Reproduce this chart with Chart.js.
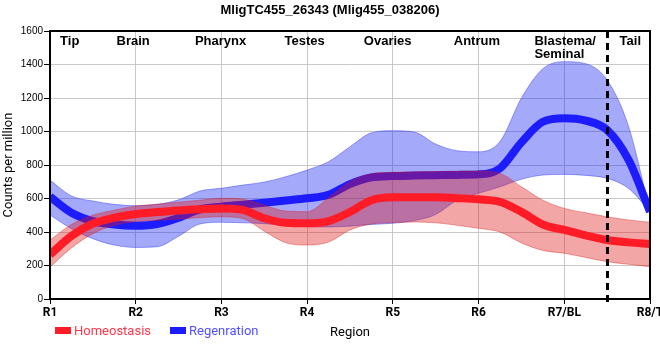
<!DOCTYPE html>
<html>
<head>
<meta charset="utf-8">
<script src="https://cdn.jsdelivr.net/npm/chart.js@4/dist/chart.umd.min.js"></script>
<style>
  html, body { margin: 0; padding: 0; background: #fff; }
  #wrap { width: 660px; height: 360px; }
</style>
</head>
<body>
<div id="wrap"><canvas id="c" width="660" height="360"></canvas></div>
<script>
// ---------- data ----------
const chartTitle = 'MligTC455_26343 (Mlig455_038206)';
const xTickLabels = ['R1', 'R2', 'R3', 'R4', 'R5', 'R6', 'R7/BL', 'R8/T'];
const regionNames = [['Tip'], ['Brain'], ['Pharynx'], ['Testes'], ['Ovaries'], ['Antrum'], ['Blastema/', 'Seminal'], ['Tail']];
const regionAt = [1.23, 1.97, 2.99, 3.97, 4.94, 5.98, 7.01, 7.77];
const dividerAt = 7.5;
const yTicks = [0, 200, 400, 600, 800, 1000, 1200, 1400, 1600];
const seriesNames = ['Homeostasis', 'Regenration'];
const xAxisTitle = 'Region';
const yAxisTitle = 'Counts per million';

// sample positions along the body (region units)
const xs = [1, 1.25, 1.5, 1.75, 2, 2.25, 2.5, 2.75, 3, 3.25, 3.5, 3.75, 4, 4.25, 4.5, 4.75,
            5, 5.25, 5.5, 5.75, 6, 6.25, 6.5, 6.75, 7, 7.25, 7.5, 7.75, 8];

const homeoMean  = [265, 376, 450, 485, 507, 519, 529, 536, 541, 532, 482, 455, 452, 465, 520, 590,
                    607, 608, 607, 602, 595, 580, 520, 445, 412, 380, 352, 338, 328];
const homeoUpper = [352, 445, 500, 530, 555, 566, 578, 590, 601, 596, 560, 525, 521, 605, 700, 748,
                    756, 759, 761, 763, 764, 750, 670, 590, 541, 515, 491, 472, 458];
const homeoLower = [190, 305, 390, 440, 462, 470, 478, 486, 491, 480, 405, 336, 322, 340, 412, 448,
                    456, 460, 455, 440, 422, 400, 335, 290, 273, 248, 223, 207, 193];

const regenMean  = [610, 515, 465, 445, 438, 448, 485, 535, 551, 563, 575, 588, 601, 622, 686, 726,
                    734, 737, 739, 741, 744, 780, 935, 1058, 1079, 1065, 1009, 830, 521];
const regenUpper = [710, 615, 585, 565, 557, 565, 592, 645, 661, 680, 698, 730, 770, 820, 909, 992,
                    1005, 997, 925, 885, 879, 940, 1200, 1375, 1417, 1405, 1307, 1030, 521];
const regenLower = [501, 420, 360, 322, 308, 312, 375, 448, 458, 455, 450, 440, 432, 430, 435, 445,
                    452, 468, 505, 590, 631, 670, 715, 740, 744, 738, 720, 660, 521];

// ---------- styles ----------
const RED = 'rgb(255,28,38)';
const BLUE = 'rgb(28,28,255)';
const RED_BAND = 'rgba(220,20,20,0.38)';
const BLUE_BAND = 'rgba(30,40,240,0.40)';
const RED_TEXT = 'rgb(255,55,75)';
const BLUE_TEXT = 'rgb(80,80,255)';

const pts = arr => arr.map((v, i) => ({ x: xs[i], y: v }));

function lineDs(label, arr, color) {
  return { label, data: pts(arr), borderColor: color, backgroundColor: color, borderWidth: 8,
           pointRadius: 0, fill: false, cubicInterpolationMode: 'monotone', borderCapStyle: 'butt' };
}
function bandDs(label, arr, color, fill) {
  return { label, data: pts(arr), borderColor: color, backgroundColor: color, borderWidth: 1,
           pointRadius: 0, fill: fill, cubicInterpolationMode: 'monotone' };
}

const datasets = [
  lineDs(seriesNames[0], homeoMean, RED),
  bandDs('h_upper', homeoUpper, RED_BAND, '+1'),
  bandDs('h_lower', homeoLower, RED_BAND, false),
  lineDs(seriesNames[1], regenMean, BLUE),
  bandDs('r_upper', regenUpper, BLUE_BAND, '+1'),
  bandDs('r_lower', regenLower, BLUE_BAND, false)
];

const decor = {
  id: 'decor',
  afterDatasetsDraw(chart) {
    const { ctx, chartArea: a, scales: { x } } = chart;
    ctx.save();
    // dashed divider
    const dx = Math.round(x.getPixelForValue(dividerAt)) + 0.5;
    ctx.strokeStyle = '#000';
    ctx.lineWidth = 3;
    ctx.setLineDash([7, 5]);
    ctx.beginPath();
    ctx.moveTo(dx, a.top);
    ctx.lineTo(dx, a.bottom + 6);
    ctx.stroke();
    ctx.setLineDash([]);
    // frame
    ctx.lineWidth = 2;
    ctx.strokeRect(a.left, a.top, a.right - a.left, a.bottom - a.top);
    ctx.restore();
  },
  afterDraw(chart) {
    const { ctx, chartArea: a, scales: { x } } = chart;
    ctx.save();
    // title
    ctx.fillStyle = '#000';
    ctx.font = 'bold 13px "Liberation Sans", Arial, sans-serif';
    ctx.textAlign = 'center';
    ctx.textBaseline = 'alphabetic';
    ctx.fillText(chartTitle, 330, 14);
    // region labels
    ctx.font = 'bold 13px "Liberation Sans", Arial, sans-serif';
    regionNames.forEach((lines, i) => {
      const cx = x.getPixelForValue(regionAt[i]);
      const w0 = ctx.measureText(lines[0]).width;
      const left = cx - w0 / 2;
      ctx.textAlign = 'left';
      lines.forEach((t, j) => ctx.fillText(t, left, 45 + j * 13));
    });
    // y axis title
    ctx.font = '13px Roboto, sans-serif';
    ctx.translate(9, (a.top + a.bottom) / 2);
    ctx.rotate(-Math.PI / 2);
    ctx.textAlign = 'center';
    ctx.textBaseline = 'middle';
    ctx.fillText(yAxisTitle, 0, 0);
    ctx.setTransform(1, 0, 0, 1, 0, 0);
    // x axis title
    ctx.textBaseline = 'alphabetic';
    ctx.fillText(xAxisTitle, (a.left + a.right) / 2, 336);
    // legend
    const items = [
      { text: seriesNames[0], box: RED, color: RED_TEXT, x: 55 },
      { text: seriesNames[1], box: BLUE, color: BLUE_TEXT, x: 170 }
    ];
    ctx.textAlign = 'left';
    items.forEach(it => {
      ctx.fillStyle = it.box;
      ctx.fillRect(it.x, 327, 16, 7);
      ctx.fillStyle = it.color;
      ctx.fillText(it.text, it.x + 19, 335);
    });
    ctx.restore();
  }
};

new Chart(document.getElementById('c'), {
  type: 'line',
  data: { datasets },
  options: {
    responsive: false,
    animation: false,
    layout: { padding: { left: 0, right: 10, top: 31, bottom: 0 } },
    plugins: { legend: { display: false }, tooltip: { enabled: false }, title: { display: false } },
    scales: {
      x: {
        type: 'linear', min: 1, max: 8,
        afterBuildTicks: s => { s.ticks = xTickLabels.map((_, i) => ({ value: i + 1 })); },
        ticks: {
          autoSkip: false, maxRotation: 0, padding: 2, color: '#000',
          font: { family: 'Roboto', size: 12, weight: 'bold' },
          callback: v => xTickLabels[Math.round(v) - 1]
        },
        grid: { color: '#c8c8c8', lineWidth: 1, tickColor: '#000', tickLength: 5 },
        border: { color: '#000', width: 2 },
        afterFit: s => { s.height = 61; s.paddingLeft = 0; s.paddingRight = 0; }
      },
      y: {
        min: 0, max: 1600,
        afterBuildTicks: s => { s.ticks = yTicks.map(v => ({ value: v })); },
        ticks: { padding: 1, color: '#000', font: { family: 'Liberation Sans', size: 10 },
                 callback: v => String(v) },
        grid: { color: '#c8c8c8', lineWidth: 1, tickColor: '#000', tickLength: 6 },
        border: { color: '#000', width: 2 },
        afterFit: s => { s.width = 50; }
      }
    }
  },
  plugins: [decor]
});
</script>
</body>
</html>
